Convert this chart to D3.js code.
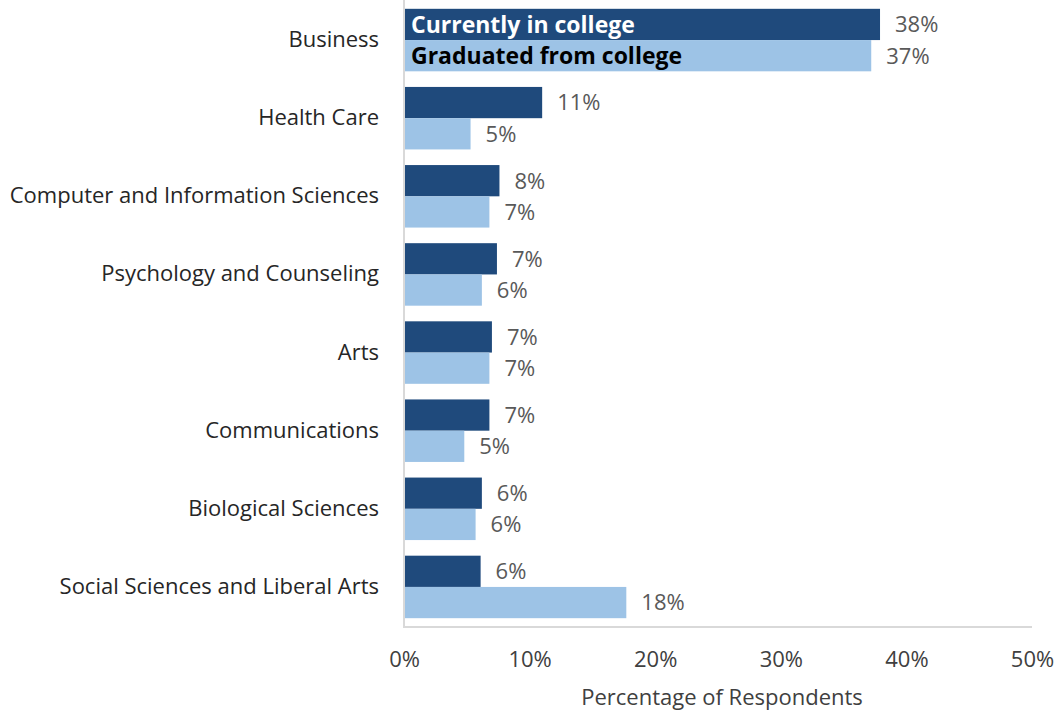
<!DOCTYPE html>
<html><head><meta charset="utf-8">
<script src="https://cdn.jsdelivr.net/npm/d3@7"></script>
<style>body{margin:0;background:#fff}svg{display:block}text{font-family:"Open Sans",sans-serif}</style>
</head><body><svg id="c" width="1061" height="715"></svg>
<script>
const categories = ["Business","Health Care","Computer and Information Sciences","Psychology and Counseling","Arts","Communications","Biological Sciences","Social Sciences and Liberal Arts"];
const seriesNames = ["Currently in college","Graduated from college"];
const currentlyInCollege = [37.9, 11.0, 7.6, 7.4, 7.0, 6.8, 6.2, 6.1];
const graduatedFromCollege = [37.2, 5.3, 6.8, 6.2, 6.8, 4.8, 5.7, 17.7];
const xTicks = [0,10,20,30,40,50];
const xTitle = "Percentage of Respondents";

const svg = d3.select("#c");
const m = {l:404, r:1032, t:1, b:626};
const x = d3.scaleLinear().domain([0,50]).range([m.l, m.r]);
const y = d3.scaleBand().domain(categories).range([m.t, m.b]).paddingInner(0.2).paddingOuter(0.1);
const sub = d3.scaleBand().domain(seriesNames).range([0, y.bandwidth()]);
const colors = {"Currently in college":"#1F4A7C","Graduated from college":"#9DC3E6"};
const rows = categories.map((c,i)=>({c, v:[currentlyInCollege[i], graduatedFromCollege[i]]}));

const g = svg.append("g");
rows.forEach(r=>{
  seriesNames.forEach((s,j)=>{
    const yy = y(r.c)+sub(s);
    g.append("rect").attr("x",x(0)).attr("y",yy).attr("width",x(r.v[j])-x(0)).attr("height",sub.bandwidth())
      .attr("fill",colors[s]);
    g.append("text").attr("x",x(r.v[j])+15).attr("y",yy+sub.bandwidth()/2).attr("dy","0.36em")
      .attr("fill","#595959").attr("font-size",22).attr("textLength",null).text(Math.round(r.v[j])+"%");
  });
});
// legend inside first bars
seriesNames.forEach((s,j)=>{
  svg.append("text").attr("x",x(0)+7).attr("y",y(categories[0])+sub(s)+sub.bandwidth()/2).attr("dy","0.36em")
    .attr("font-size",23).attr("font-weight","bold").attr("fill", j===0?"#fff":"#000").text(s);
});
// axes
svg.append("line").attr("x1",x(0)).attr("x2",x(0)).attr("y1",0).attr("y2",m.b+1).attr("stroke","#d9d9d9").attr("stroke-width",2);
svg.append("line").attr("x1",x(0)-1).attr("x2",x(50)).attr("y1",m.b+1).attr("y2",m.b+1).attr("stroke","#d9d9d9").attr("stroke-width",2);
const xa = svg.append("g").attr("transform",`translate(0,${m.b})`).call(d3.axisBottom(x).tickValues(xTicks).tickSize(0).tickPadding(25).tickFormat(d=>d+"%"));
xa.select(".domain").remove();
xa.selectAll("text").attr("font-size",22).attr("fill","#404040").style("font-family","'Open Sans',sans-serif");
const ya = svg.append("g").attr("transform",`translate(${m.l},0)`).call(d3.axisLeft(y).tickSize(0).tickPadding(25));
ya.select(".domain").remove();
ya.selectAll("text").attr("font-size",22).attr("fill","#262626").style("font-family","'Open Sans',sans-serif");
svg.append("text").attr("x",(x(0)+x(50))/2+4).attr("y",705).attr("text-anchor","middle").attr("font-size",22).attr("fill","#404040").text(xTitle);
</script></body></html>
